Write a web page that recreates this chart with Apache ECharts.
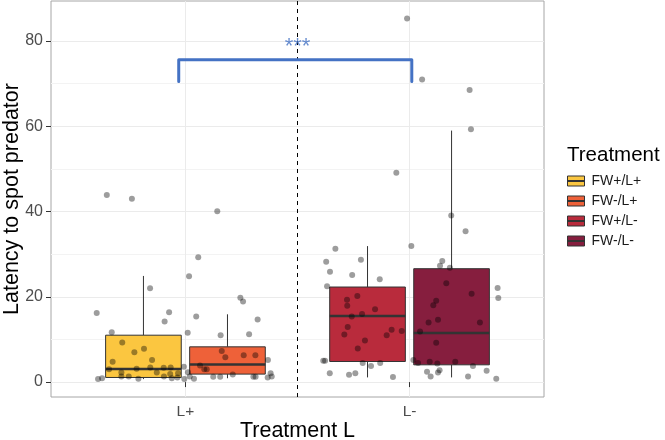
<!DOCTYPE html>
<html><head><meta charset="utf-8">
<script src="https://cdn.jsdelivr.net/npm/echarts@6/dist/echarts.min.js"></script>
<style>html,body{margin:0;padding:0;background:#fff}#c{width:665px;height:440px}</style>
</head><body><div id="c"></div>
<script>
// ---------- data ----------
const xCategories = ['L+', 'L-'];
const xTickValues = [1, 2];
const treatments = ['FW+/L+', 'FW-/L+', 'FW+/L-', 'FW-/L-'];
const treatmentGroup = [1, 1, 2, 2];      // x position of the category
const treatmentSlot = [0, 1, 0, 1];       // dodge slot within category
const whiskerLow = [0.7, 0.9, 1.1, 1.1];
const q1 = [1.08, 1.87, 4.83, 4.05];
const median = [3.04, 4.13, 15.5, 11.5];
const q3 = [11.0, 8.27, 22.3, 26.6];
const whiskerHigh = [24.9, 15.9, 31.9, 59.0];
const colors = ['#FBC640', '#EE6139', '#B92B3C', '#861E3E'];
const yTicks = [0, 20, 40, 60, 80];
const yMinorTicks = [10, 30, 50, 70];

// jittered observations [x, latency]
const pointsLplus = [
  [0.649,43.9],[0.761,43.0],[1.142,40.1],[1.057,29.3],[1.016,24.8],[0.842,22.0],
  [0.604,16.2],[0.927,16.4],[0.907,14.2],[1.048,15.4],[1.245,19.8],[1.257,18.9],
  [1.322,14.7],[0.671,11.7],[1.010,11.6],[1.157,11.0],[1.284,11.2],[0.718,9.3],
  [0.772,7.0],[0.815,7.8],[0.851,5.2],[0.675,4.75],[1.162,7.3],[1.178,5.8],
  [1.260,6.3],[1.312,6.3],[1.368,5.2],[0.659,3.0],[0.782,3.1],[0.843,3.4],
  [0.903,3.35],[0.934,3.4],[0.714,2.25],[0.872,2.25],[0.932,1.9],[0.967,2.1],
  [0.993,3.6],[1.011,2.3],[1.065,3.9],[1.084,3.0],[1.095,3.0],[0.714,1.3],
  [0.747,1.3],[0.790,0.8],[0.904,1.3],[0.939,0.9],[0.964,1.1],[0.995,0.7],
  [1.019,1.3],[1.038,0.8],[1.124,1.25],[1.155,1.25],[1.211,1.8],[1.303,1.25],
  [1.313,1.25],[1.367,1.1],[1.380,2.1],[1.385,1.3],[0.610,0.7],[0.628,0.9]
];
const pointsLminus = [
  [1.989,85.3],[2.056,71.0],[2.268,68.5],[2.274,59.3],[1.941,49.1],[2.186,39.1],
  [2.250,35.4],[2.008,31.9],[1.669,31.3],[1.628,28.2],[1.783,28.7],[1.645,25.9],
  [1.744,25.1],[1.867,24.1],[1.632,22.5],[2.146,28.4],[2.136,27.3],[2.180,26.8],
  [2.164,23.2],[2.393,22.1],[2.396,19.7],[2.277,20.7],[1.721,19.3],[1.722,17.9],
  [1.767,20.2],[2.119,19.1],[2.106,18.0],[1.846,17.1],[1.788,16.0],[1.742,15.4],
  [1.724,12.95],[2.085,14.0],[2.127,14.6],[2.314,14.0],[1.920,12.25],[1.965,12.0],
  [1.709,11.15],[1.898,11.0],[2.047,11.85],[1.801,9.75],[2.119,9.2],[1.769,7.9],
  [1.615,5.0],[1.623,5.0],[2.017,5.2],[2.038,4.45],[2.090,4.75],[2.124,4.36],
  [2.204,4.75],[1.791,4.5],[1.828,3.75],[1.869,4.5],[2.283,3.8],[1.644,2.1],
  [1.730,1.7],[1.758,2.1],[1.926,1.2],[2.078,2.4],[2.094,1.3],[2.127,2.25],
  [2.134,2.8],[2.261,1.3],[2.344,2.65],[2.387,0.77]
];
const bracket = [[0.97,70.5],[0.97,75.6],[2.01,75.6],[2.01,70.5]];
const sigLabel = '***';
const sigPos = [1.5, 78.6];
const separatorX = 1.5;

// ---------- layout ----------
const dodgeWidth = 0.75;
const slotWidth = dodgeWidth / 2;
const boxWidth = slotWidth * 0.9;
const FONT = "'Liberation Sans', Arial, sans-serif";

const chart = echarts.init(document.getElementById('c'), null, {renderer: 'canvas'});

const boxSeries = treatments.map((name, i) => ({
  name: name,
  type: 'custom',
  color: colors[i],
  z: 2,
  data: [[treatmentGroup[i] - dodgeWidth / 2 + slotWidth * (treatmentSlot[i] + 0.5),
          whiskerLow[i], q1[i], median[i], q3[i], whiskerHigh[i]]],
  encode: {x: 0, y: [1, 2, 3, 4, 5]},
  renderItem: (params, api) => {
    const x = api.value(0);
    const pLo = api.coord([x, api.value(1)]);
    const pQ1 = api.coord([x, api.value(2)]);
    const pMed = api.coord([x, api.value(3)]);
    const pQ3 = api.coord([x, api.value(4)]);
    const pHi = api.coord([x, api.value(5)]);
    const hw = api.size([boxWidth / 2, 0])[0];
    const cx = pMed[0];
    const line = {stroke: '#333333', lineWidth: 1};
    return {type: 'group', children: [
      {type: 'line', shape: {x1: cx, y1: pHi[1], x2: cx, y2: pQ3[1]}, style: line},
      {type: 'line', shape: {x1: cx, y1: pQ1[1], x2: cx, y2: pLo[1]}, style: line},
      {type: 'rect', shape: {x: cx - hw, y: pQ3[1], width: 2 * hw, height: pQ1[1] - pQ3[1]},
        style: {fill: colors[i], stroke: '#333333', lineWidth: 1}},
      {type: 'line', shape: {x1: cx - hw, y1: pMed[1], x2: cx + hw, y2: pMed[1]},
        style: {stroke: '#333333', lineWidth: 2.5}}
    ]};
  }
}));

const pointStyle = {color: 'rgba(0,0,0,0.48)'};

const option = {
  animation: false,
  backgroundColor: '#ffffff',
  textStyle: {fontFamily: FONT},
  title: {
    text: 'Treatment', left: 567, top: 145, padding: 0,
    textStyle: {fontFamily: FONT, fontSize: 20.5, fontWeight: 'normal', color: '#000'}
  },
  legend: {
    data: treatments, orient: 'vertical', left: 567, top: 174, padding: 0,
    itemWidth: 17, itemHeight: 10, itemGap: 6,
    icon: 'path://M0,0H17V10H0Z M0,4.5H17V5.5H0Z',
    itemStyle: {borderColor: '#333333', borderWidth: 1},
    textStyle: {fontFamily: FONT, fontSize: 14, color: '#1a1a1a', padding: [0, 0, 0, 2]},
    selectedMode: false
  },
  grid: {left: 51, right: 121, top: 1, bottom: 43, show: true, containLabel: false,
         outerBoundsMode: 'none',
         borderColor: '#A6A6A6', borderWidth: 1, backgroundColor: 'transparent'},
  xAxis: {
    type: 'value', min: 0.4, max: 2.6,
    name: 'Treatment L', nameLocation: 'middle', nameGap: 23, nameMoveOverlap: false,
    nameTextStyle: {fontFamily: FONT, fontSize: 21.5, color: '#000'},
    axisLine: {show: false},
    axisTick: {show: true, length: 5, customValues: xTickValues, lineStyle: {color: '#333333'}},
    axisLabel: {customValues: xTickValues, margin: 7, fontSize: 15.5, color: '#4D4D4D', fontFamily: FONT,
      formatter: v => xCategories[Math.round(v) - 1]},
    splitLine: {show: true, lineStyle: {color: '#EBEBEB', width: 1}}
  },
  yAxis: [{
    type: 'value', min: -3.5, max: 89.4,
    name: 'Latency to spot predator', nameLocation: 'middle', nameGap: 28, nameMoveOverlap: false,
    nameTextStyle: {fontFamily: FONT, fontSize: 21.5, color: '#000'},
    axisLine: {show: false},
    axisTick: {show: true, length: 5, customValues: yTicks, lineStyle: {color: '#333333'}},
    axisLabel: {customValues: yTicks, margin: 8, fontSize: 16, color: '#4D4D4D', fontFamily: FONT},
    splitLine: {show: true, lineStyle: {color: '#EBEBEB', width: 1}}
  }, {
    type: 'value', min: -3.5, max: 89.4, position: 'left',
    axisLine: {show: false},
    axisTick: {show: false, customValues: yMinorTicks},
    axisLabel: {show: false, customValues: yMinorTicks},
    splitLine: {show: true, lineStyle: {color: '#F3F3F3', width: 1}}
  }],
  series: [
    ...boxSeries,
    {
      name: 'obs L+', type: 'scatter', data: pointsLplus, symbolSize: 6,
      itemStyle: pointStyle, z: 5, silent: true
    },
    {
      name: 'obs L-', type: 'scatter', data: pointsLminus, symbolSize: 6,
      itemStyle: pointStyle, z: 5, silent: true,
      markLine: {
        silent: true, symbol: 'none', label: {show: false},
        lineStyle: {color: '#000', type: [4, 4], width: 1},
        data: [{xAxis: separatorX}]
      }
    },
    {
      name: 'bracket', type: 'line', data: bracket, symbol: 'none', z: 6, silent: true,
      lineStyle: {color: '#4472C4', width: 3, cap: 'round', join: 'round'}
    },
    {
      name: 'sig', type: 'scatter', data: [sigPos], symbolSize: 0, z: 7, silent: true,
      label: {show: true, position: 'inside', formatter: sigLabel, color: '#4472C4',
        fontSize: 22, fontFamily: FONT}
    }
  ]
};
chart.setOption(option);
</script></body></html>
